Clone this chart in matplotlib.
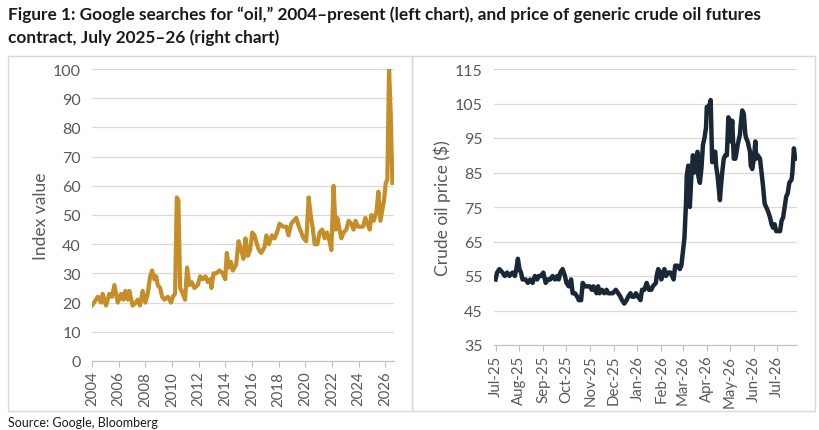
import matplotlib
matplotlib.use("Agg")
import matplotlib.pyplot as plt
import matplotlib.dates as mdates
from matplotlib.patches import Rectangle
import numpy as np
import pandas as pd
from matplotlib import font_manager

avail = {f.name for f in font_manager.fontManager.ttflist}
main_font = 'Lato' if 'Lato' in avail else 'DejaVu Sans'
plt.rcParams['font.family'] = [main_font, 'DejaVu Sans']

# ---------------- data ----------------
search_years = [2004.00, 2004.30, 2004.43, 2004.68, 2004.80, 2005.05, 2005.30, 2005.50, 2005.68, 2005.93,
                2006.18, 2006.35, 2006.50, 2006.68, 2006.80, 2007.05, 2007.30, 2007.43, 2007.60, 2007.80,
                2008.00, 2008.18, 2008.36, 2008.51, 2008.68, 2008.81, 2008.93, 2009.11, 2009.26, 2009.43,
                2009.68, 2009.93, 2010.06, 2010.23, 2010.36, 2010.48, 2010.61, 2010.81, 2010.98, 2011.13,
                2011.31, 2011.48, 2011.68, 2011.93, 2012.11, 2012.31, 2012.51, 2012.69, 2012.86, 2012.96,
                2013.11, 2013.31, 2013.56, 2013.81, 2013.99, 2014.11, 2014.26, 2014.41, 2014.56, 2014.81,
                2014.99, 2015.19, 2015.36, 2015.51, 2015.69, 2015.86, 2016.02, 2016.19, 2016.37, 2016.52,
                2016.69, 2016.94, 2017.07, 2017.27, 2017.49, 2017.69, 2017.87, 2018.07, 2018.32, 2018.57,
                2018.74, 2018.94, 2019.12, 2019.32, 2019.52, 2019.69, 2019.87, 2020.07, 2020.25, 2020.40,
                2020.57, 2020.70, 2020.90, 2021.07, 2021.27, 2021.45, 2021.62, 2021.82, 2021.95, 2022.12,
                2022.27, 2022.40, 2022.52, 2022.70, 2022.87, 2023.07, 2023.25, 2023.45, 2023.62, 2023.77,
                2023.95, 2024.13, 2024.33, 2024.50, 2024.65, 2024.83, 2024.95, 2025.13, 2025.33, 2025.48,
                2025.63, 2025.78, 2025.90, 2026.03, 2026.15, 2026.28, 2026.40, 2026.53]
search_index = [19, 21, 22, 20, 23, 19, 23, 22, 26, 20,
                23, 21, 24, 21, 24, 19, 20, 21, 19, 24,
                20, 23, 29, 31, 28, 29, 26, 25, 22, 21,
                22, 20, 22, 23, 56, 55, 25, 23, 21, 32,
                26, 27, 25, 26, 29, 28, 29, 27, 28, 25,
                30, 30, 31, 30, 28, 37, 32, 34, 31, 33,
                41, 38, 35, 42, 36, 38, 44, 43, 40, 38,
                37, 39, 43, 40, 43, 42, 44, 47, 46, 46,
                43, 47, 48, 49, 46, 44, 42, 41, 56, 50,
                45, 40, 40, 44, 45, 42, 44, 41, 38, 60,
                45, 49, 46, 42, 44, 45, 48, 47, 45, 48,
                46, 46, 46, 49, 47, 45, 50, 48, 51, 58,
                48, 52, 55, 61, 62, 100, 85, 61]

oil_start = '2025-07-01'
oil_days = [0, 2, 5, 9, 12, 15, 18, 22, 25, 27, 29, 31, 33, 35, 39, 42, 45, 48, 51, 54,
            56, 59, 62, 65, 68, 71, 74, 77, 80, 82, 84, 87, 90, 92, 95, 98, 100, 103, 106, 108,
            111, 113, 116, 119, 122, 125, 127, 131, 133, 135, 138, 141, 144, 146, 149, 152, 156, 159, 162, 164,
            167, 170, 172, 175, 177, 180, 182, 185, 188, 190, 193, 196, 199, 202, 204, 208, 209, 211, 213, 215,
            217, 219, 221, 224, 227, 229, 231, 233, 236, 239, 241, 243, 245, 247, 248, 250, 252, 254, 256, 258,
            260, 262, 263, 265, 267, 269, 271, 273, 274, 276, 278, 279, 281, 283, 285, 286, 288, 291, 292, 294,
            296, 298, 300, 302, 304, 305, 307, 309, 311, 312, 314, 317, 318, 320, 322, 324, 325, 327, 330, 331,
            333, 335, 337, 338, 340, 343, 345, 347, 349, 351, 353, 356, 358, 360, 362, 364, 366, 369, 371, 373,
            375, 377, 379, 381, 384, 385, 387, 388, 389]
oil_price = [54, 56, 57, 56, 55, 56, 55, 56, 55, 57, 60, 57, 56, 54, 54, 53, 54, 53, 55, 54,
             55, 55, 56, 53, 54, 54, 55, 54, 55, 54, 56, 57, 55, 53, 52, 54, 50, 50, 49, 48,
             48, 53, 52, 52, 52, 51, 52, 50, 52, 50, 51, 50, 51, 50, 50, 50, 51, 50, 49, 48,
             47, 48, 49, 50, 49, 49, 50, 49, 48, 51, 51, 53, 51, 51, 52, 53, 55, 57, 56, 54,
             56, 57, 55, 56, 56, 55, 54, 58, 58, 57, 58, 62, 66, 76, 84, 87, 75, 84, 90, 85,
             87, 91, 84, 82, 86, 93, 95, 98, 104, 104, 105, 106, 88, 91, 91, 87, 84, 77, 80, 85,
             89, 90, 90, 101, 100, 94, 100, 89, 89, 90, 93, 96, 99, 103, 102, 96, 95, 94, 91, 87,
             86, 89, 94, 89, 90, 89, 85, 81, 76, 75, 74, 72, 70, 69, 70, 68, 68, 68, 71, 72,
             75, 78, 79, 82, 83, 85, 92, 90, 89]

left_yticks = [0, 10, 20, 30, 40, 50, 60, 70, 80, 90, 100]
left_xticks = list(range(2004, 2027, 2))
right_yticks = [35, 45, 55, 65, 75, 85, 95, 105, 115]

title = "Figure 1: Google searches for \u201coil,\u201d 2004\u2013present (left chart), and price of generic crude oil futures\ncontract, July 2025\u201326 (right chart)"
source = "Source: Google, Bloomberg"

# ---------------- figure ----------------
W, H = 820, 431
fig = plt.figure(figsize=(W / 100, H / 100), dpi=100)
fig.patch.set_facecolor('white')

def fx(px):
    return px / W

def fy(py):
    return 1 - py / H

grid_c = '#D9D9D9'
text_c = '#595959'

# panel borders
for x0, x1 in [(8, 412), (412, 815)]:
    fig.patches.append(Rectangle((fx(x0), fy(412)), fx(x1) - fx(x0), fy(57) - fy(412),
                                 transform=fig.transFigure, fill=False, edgecolor=grid_c, lw=1.0))

fig.text(fx(8), fy(6), title, ha='left', va='top', fontsize=12.4, fontweight='bold',
         color='#1a1a1a', linespacing=1.5)
fig.text(fx(8), fy(423), source, ha='left', va='center', fontsize=9, color='#1a1a1a')

# ---- left chart ----
axL = fig.add_axes([fx(92), fy(362), fx(394) - fx(92), fy(70) - fy(362)])
axL.plot(search_years, search_index, color='#C68E28', lw=3.0, solid_joinstyle='round')
axL.set_xlim(2004, 2026.65)
axL.set_ylim(0, 100)
axL.set_yticks(left_yticks)
axL.set_xticks(left_xticks)
axL.set_xticklabels([str(t) for t in left_xticks], rotation=90)
axL.set_ylabel('Index value', fontsize=12.5, color=text_c, labelpad=3)

# ---- right chart ----
oil_dates = pd.Timestamp(oil_start) + pd.to_timedelta(oil_days, unit='D')
axR = fig.add_axes([fx(494), fy(346), fx(797) - fx(494), fy(70) - fy(346)])
axR.plot(oil_dates, oil_price, color='#192736', lw=3.2, solid_joinstyle='round')
axR.set_xlim(pd.Timestamp('2025-06-29'), pd.Timestamp('2026-07-27'))
axR.set_ylim(35, 115)
axR.set_yticks(right_yticks)
axR.xaxis.set_major_locator(mdates.MonthLocator())
axR.xaxis.set_major_formatter(mdates.DateFormatter('%b-%y'))
plt.setp(axR.get_xticklabels(), rotation=90)
axR.set_ylabel('Crude oil price ($)', fontsize=12.5, color=text_c, labelpad=3)

for ax in (axL, axR):
    ax.set_facecolor('none')
    ax.grid(axis='y', color=grid_c, lw=0.9)
    ax.set_axisbelow(True)
    for s in ('left', 'right', 'top'):
        ax.spines[s].set_visible(False)
    ax.spines['bottom'].set_color('#BFBFBF')
    ax.tick_params(axis='y', length=0, labelsize=11.5, labelcolor=text_c, pad=8)
    ax.tick_params(axis='x', length=4, color='#BFBFBF', labelsize=10.8, labelcolor=text_c, pad=3)

fig.savefig('out.png', dpi=100, facecolor='white')
